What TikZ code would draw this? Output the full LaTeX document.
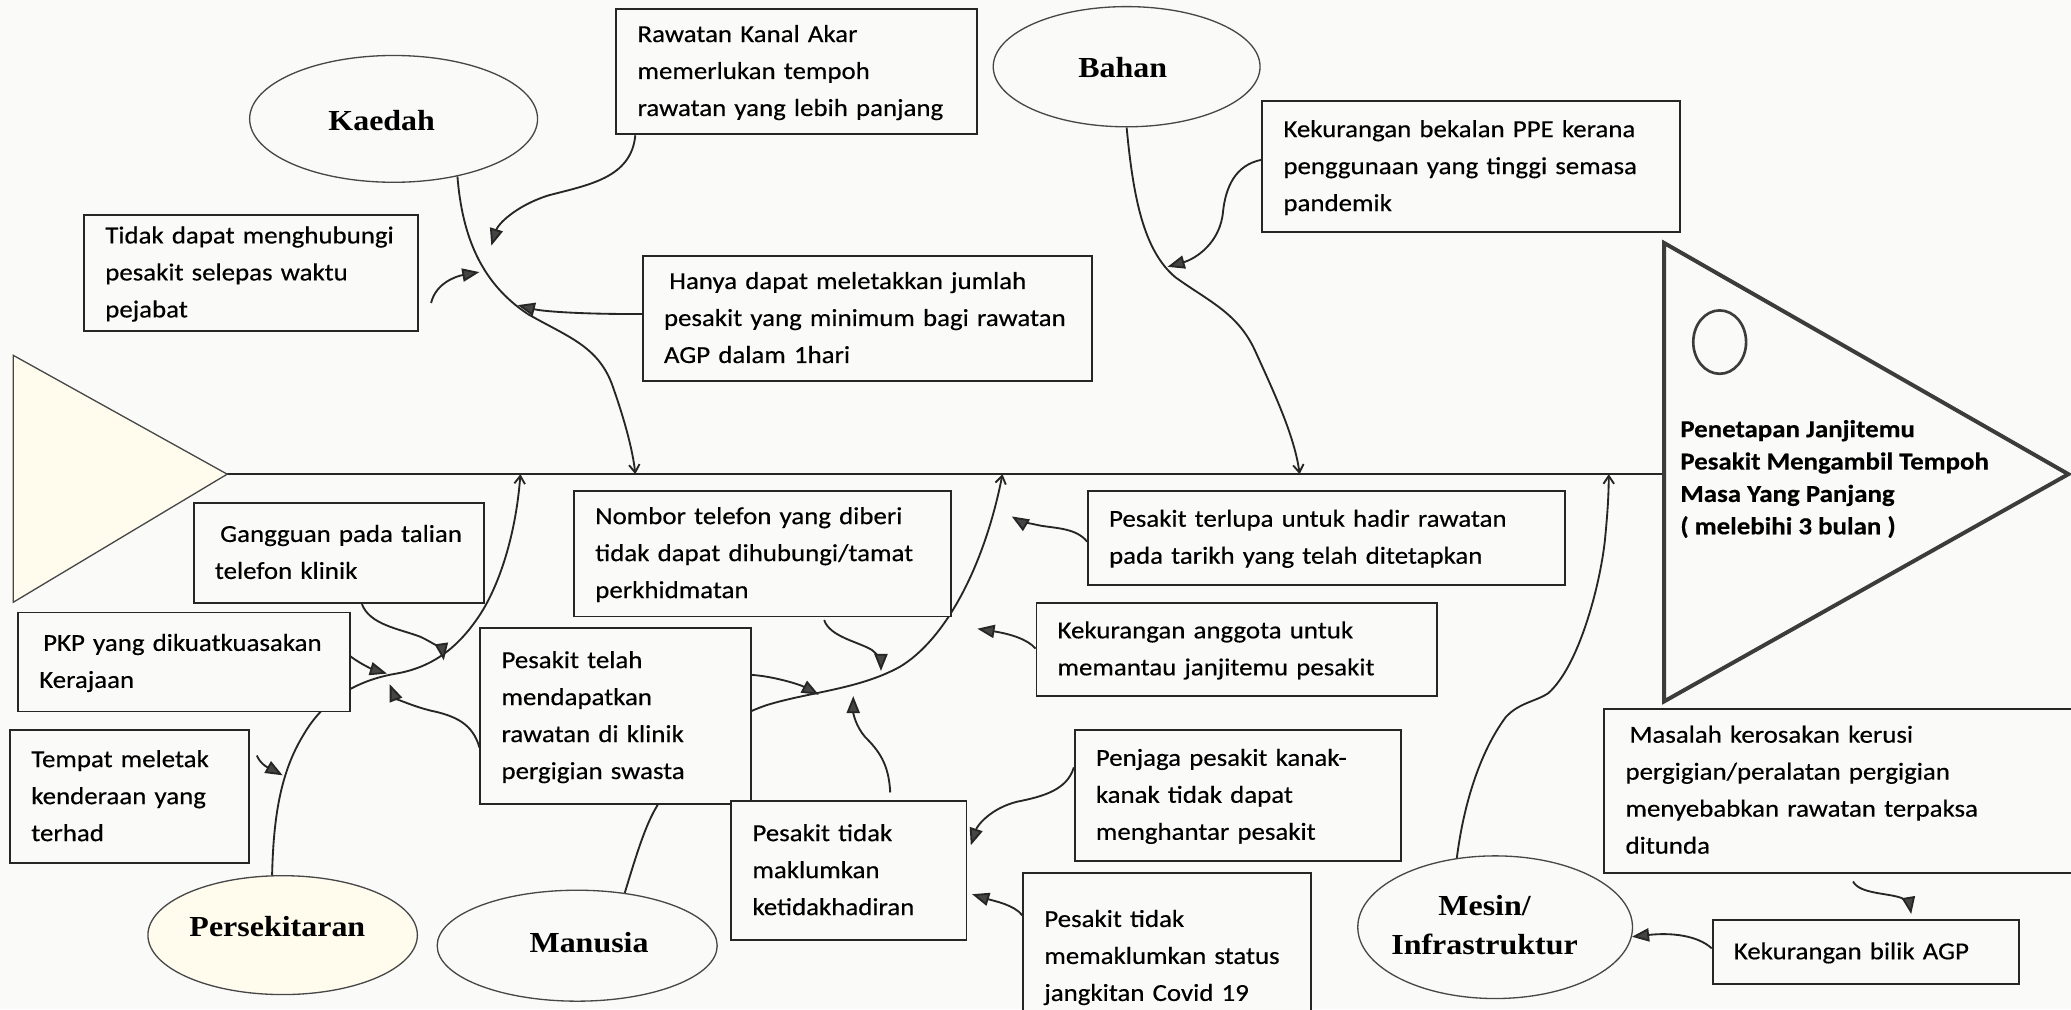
\documentclass[tikz,border=0pt]{standalone}
\usepackage{fontspec}
\usetikzlibrary{shapes.geometric,arrows.meta,calc}
\newfontfamily\bodyfamily{Carlito}[FakeStretch=1.1,FakeBold=0.4]
\newfontfamily\catfamily{Liberation Serif}[FakeStretch=1.1]
\definecolor{paper}{HTML}{FAFAF8}
\definecolor{ink}{HTML}{262626}
\definecolor{tipgray}{HTML}{454545}
\definecolor{cream}{HTML}{FFFCEE}
\pgfdeclarelayer{bg}
\pgfdeclarelayer{lines}
\pgfsetlayers{bg,lines,main}
\tikzset{
  cbox/.style={draw=ink, fill=paper, line width=1.4pt, anchor=north west,
    inner xsep=16pt, inner ysep=0pt, align=left,
    font=\bodyfamily\fontsize{18.5}{28}\selectfont},
  cat/.style={draw=ink!85, line width=1pt, ellipse, fill=paper, inner sep=0pt},
  catlabel/.style={font=\catfamily\bfseries\fontsize{22}{30}\selectfont, inner sep=0pt, anchor=base},
  spine/.style={draw=ink, line width=1.6pt},
  bone/.style={draw=ink, line width=1.4pt, -{Straight Barb[length=6pt,width=8pt]}},
  cause/.style={draw=ink, line width=1.4pt, -{Triangle[length=13pt,width=10pt,fill=tipgray]}},
}
\begin{document}
\begin{tikzpicture}[x=1pt,y=-1pt]
\useasboundingbox (0,0) rectangle (1568,764);
\begin{pgfonlayer}{bg}
  \fill[paper] (0,0) rectangle (1568,764);
\end{pgfonlayer}
\clip (0,0) rectangle (1568,764);

% ---- tail and head of the fish ----
\coordinate (tailtop) at (10,269);
\coordinate (tailbot) at (10,456);
\coordinate (tailtip) at (172,359);
\draw[fill=cream, draw=ink!85, line width=1pt] (tailtop) -- (tailtip) -- (tailbot) -- cycle;

\coordinate (headtop) at (1260,184);
\coordinate (headbot) at (1260,531);
\coordinate (headtip) at (1566,359);
\coordinate (headback) at (1260,359);
\coordinate (underline) at (1486,359);
\draw[fill=paper, draw=ink!90, line width=3pt, line join=miter] (headtop) -- (headtip) -- (headbot) -- cycle;
\node[draw=ink!90, line width=2pt, ellipse, minimum width=40pt, minimum height=48pt, inner sep=0pt] (eye) at (1302,259) {};
\node[anchor=base west, inner sep=0pt, font=\bodyfamily\bfseries\fontsize{18.5}{24.5}\selectfont] (effect) at (1272,331)
  {\begin{tabular}[t]{@{}l@{}}Penetapan Janjitemu\\Pesakit Mengambil Tempoh\\Masa Yang Panjang\\( melebihi 3 bulan )\end{tabular}};

% ---- category ellipses ----
\node[cat, minimum width=218pt, minimum height=96pt] (kaedah) at (298,90) {};
\node[catlabel] (kaedahlbl) at (289,99) {Kaedah};
\node[cat, minimum width=202pt, minimum height=91pt] (bahan) at (853,50.5) {};
\node[catlabel] (bahanlbl) at (850,59) {Bahan};
\node[cat, fill=cream, minimum width=204pt, minimum height=90pt] (pers) at (214,708) {};
\node[catlabel] (perslbl) at (210,709) {Persekitaran};
\node[cat, minimum width=212pt, minimum height=84pt] (man) at (437,716) {};
\node[catlabel] (manlbl) at (446,721.5) {Manusia};
\node[cat, minimum width=208pt, minimum height=108pt] (mesin) at (1132,702) {};
\node[catlabel, anchor=base] (mesinlbl) at (1124,693)
  {\begin{tabular}[t]{@{}c@{}}Mesin/\\Infrastruktur\end{tabular}};

% ---- cause boxes ----
\node[cbox, text width=241pt, minimum height=95pt] (rka) at (466,6)
  {\begin{tabular}{@{}l@{}}Rawatan Kanal Akar\\memerlukan tempoh\\rawatan yang lebih panjang\end{tabular}};
\node[cbox, text width=221pt, minimum height=88pt] (tdk) at (63,162)
  {\begin{tabular}{@{}l@{}}Tidak dapat menghubungi\\pesakit selepas waktu\\pejabat\end{tabular}};
\node[cbox, text width=308pt, minimum height=95pt] (hny) at (486,193)
  {\begin{tabular}{@{}l@{}}\hspace{4pt}Hanya dapat meletakkan jumlah\\pesakit yang minimum bagi rawatan\\AGP dalam 1hari\end{tabular}};
\node[cbox, text width=284pt, minimum height=99pt] (ppe) at (955,76)
  {\begin{tabular}{@{}l@{}}Kekurangan bekalan PPE kerana\\penggunaan yang tinggi semasa\\pandemik\end{tabular}};
\node[cbox, text width=188pt, minimum height=76pt] (ggn) at (146,380)
  {\begin{tabular}{@{}l@{}}\hspace{4pt}Gangguan pada talian\\telefon klinik\end{tabular}};
\node[cbox, text width=219pt, minimum height=75pt] (pkp) at (13,463)
  {\begin{tabular}{@{}l@{}}\hspace{3pt}PKP yang dikuatkuasakan\\Kerajaan\end{tabular}};
\node[cbox, text width=149pt, minimum height=101pt] (tmp) at (7,552)
  {\begin{tabular}{@{}l@{}}Tempat meletak\\kenderaan yang\\terhad\end{tabular}};
\node[cbox, text width=253pt, minimum height=95pt] (nmb) at (434,371)
  {\begin{tabular}{@{}l@{}}Nombor telefon yang diberi\\tidak dapat dihubungi/tamat\\perkhidmatan\end{tabular}};
\node[cbox, text width=173pt, minimum height=133pt] (tel) at (363,475)
  {\begin{tabular}{@{}l@{}}Pesakit telah\\mendapatkan\\rawatan di klinik\\pergigian swasta\end{tabular}};
\node[cbox, text width=329pt, minimum height=71pt] (tlp) at (823,371)
  {\begin{tabular}{@{}l@{}}Pesakit terlupa untuk hadir rawatan\\pada tarikh yang telah ditetapkan\end{tabular}};
\node[cbox, text width=271pt, minimum height=70pt] (agt) at (784,456)
  {\begin{tabular}{@{}l@{}}Kekurangan anggota untuk\\memantau janjitemu pesakit\end{tabular}};
\node[cbox, text width=215pt, minimum height=99pt] (pjg) at (813,552)
  {\begin{tabular}{@{}l@{}}Penjaga pesakit kanak-\\kanak tidak dapat\\menghantar pesakit\end{tabular}};
\node[cbox, text width=146pt, minimum height=105pt] (tdm) at (553,606)
  {\begin{tabular}{@{}l@{}}Pesakit tidak\\maklumkan\\ketidakhadiran\end{tabular}};
\node[cbox, text width=186pt, minimum height=127pt] (sts) at (774,660)
  {\begin{tabular}{@{}l@{}}Pesakit tidak\\memaklumkan status\\jangkitan Covid 19\\ \end{tabular}};
\node[cbox, text width=348pt, minimum height=124pt] (msl) at (1214,536)
  {\begin{tabular}{@{}l@{}}\hspace{3pt}Masalah kerosakan kerusi\\pergigian/peralatan pergigian\\menyebabkan rawatan terpaksa\\ditunda\end{tabular}};
\node[cbox, text width=200pt, minimum height=48pt] (agp) at (1296,696)
  {\begin{tabular}{@{}l@{}}Kekurangan bilik AGP\end{tabular}};

% ---- where the bones meet the spine ----
\coordinate (spK) at (481,359);
\coordinate (spB) at (984,359);
\coordinate (spP) at (394,359);
\coordinate (spM) at (759,359);
\coordinate (spI) at (1218,359);

% ---- tips of the cause arrows ----
\coordinate (kA) at (372,186);
\coordinate (kB) at (363,206);
\coordinate (kC) at (392,231);
\coordinate (bA) at (884,202);
\coordinate (pA) at (336,500);
\coordinate (pB) at (293,510);
\coordinate (pC) at (295,518);
\coordinate (pD) at (214,587);
\coordinate (mA) at (620,526);
\coordinate (mB) at (667,508);
\coordinate (mC) at (646,527);
\coordinate (mD) at (766,391);
\coordinate (mE) at (740,476);
\coordinate (mF) at (735,640);
\coordinate (mG) at (736,677);
\coordinate (xA) at (1447,692);

\begin{pgfonlayer}{lines}
  % spine
  \draw[spine] (tailtip) -- (headback);
  \draw[spine] (underline) -- (headtip);

  % Kaedah
  \draw[bone] (kaedah.-42) .. controls (350,180) and (365,215) .. (400,238)
     .. controls (430,255) and (452,262) .. (463,290)
     .. controls (472,315) and (479,340) .. (spK);
  \draw[cause] ($(rka.south west)+(15,0)$) .. controls (478,135) and (445,140) .. (415,148)
     .. controls (390,156) and (377,170) .. (kA);
  \draw[cause] ($(tdk.south east)+(9,-22)$) .. controls (330,214) and (346,209) .. (kB);
  \draw[cause] ($(hny.west)+(0,-3.5)$) .. controls (445,238) and (412,236) .. (kC);

  % Bahan
  \draw[bone] (bahan.-90) .. controls (858,150) and (866,190) .. (890,210)
     .. controls (915,228) and (937,237) .. (950,265)
     .. controls (965,298) and (980,330) .. (spB);
  \draw[cause] ($(ppe.north west)+(0,45)$) .. controls (935,125) and (928,142) .. (926,160)
     .. controls (924,184) and (905,196) .. (bA);

  % Persekitaran
  \draw[bone] (pers.100) .. controls (207,620) and (212,585) .. (230,556)
     .. controls (245,530) and (270,515) .. (300,510)
     .. controls (328,505) and (347,490) .. (363,466)
     .. controls (380,440) and (391,400) .. (spP);
  \draw[cause] ($(ggn.south west)+(128,0)$) .. controls (280,473) and (302,476) .. (318,482)
     .. controls (329,487) and (335,493) .. (pA);
  \draw[cause] ($(pkp.north east)+(0,34)$) .. controls (275,504) and (283,507) .. (pB);
  \draw[cause] ($(tel.north west)+(0,91)$) .. controls (358,548) and (345,542) .. (326,538)
     .. controls (310,534) and (299,528) .. (pC);
  \draw[cause] ($(tmp.north east)+(5,20)$) .. controls (198,580) and (205,582) .. (pD);

  % Manusia
  \draw[bone] (man.48) .. controls (481,650) and (488,626) .. (497,611)
     .. controls (520,570) and (545,546) .. (580,534)
     .. controls (612,524) and (650,522) .. (681,505)
     .. controls (715,485) and (745,430) .. (spM);
  \draw[cause] ($(tel.north east)+(0,36)$) .. controls (585,512) and (605,518) .. (mA);
  \draw[cause] ($(nmb.south west)+(190,2)$) .. controls (628,482) and (650,486) .. (660,492)
     .. controls (665,496) and (667,500) .. (mB);
  \draw[cause] ($(tdm.north west)+(121,-6)$) .. controls (673,578) and (665,568) .. (655,558)
     .. controls (648,550) and (646,540) .. (mC);
  \draw[cause] ($(tlp.north west)+(0,39)$) .. controls (815,400) and (800,400) .. (788,398)
     .. controls (778,396) and (771,394) .. (mD);
  \draw[cause] ($(agt.north west)+(0,35)$) .. controls (778,484) and (765,480) .. (mE);
  \draw[cause] ($(pjg.north west)+(0,29)$) .. controls (808,598) and (790,603) .. (770,607)
     .. controls (750,612) and (740,625) .. (mF);
  \draw[cause] ($(sts.north west)+(0,33)$) .. controls (768,685) and (752,682) .. (mG);

  % Mesin / Infrastruktur
  \draw[bone] (mesin.119) .. controls (1108,610) and (1120,570) .. (1140,543)
     .. controls (1150,532) and (1163,531) .. (1172,525)
     .. controls (1195,505) and (1211,445) .. (1215,410)
     .. controls (1217,390) and (1218,375) .. (spI);
  \draw[cause] ($(agp.north west)+(0,22)$) .. controls (1285,708) and (1265,706) .. (mesin.-4);
  \draw[cause] ($(msl.south west)+(189,6)$) .. controls (1408,677) and (1430,676) .. (1440,680)
     .. controls (1444,683) and (1446,686) .. (xA);
\end{pgfonlayer}
\end{tikzpicture}
\end{document}
